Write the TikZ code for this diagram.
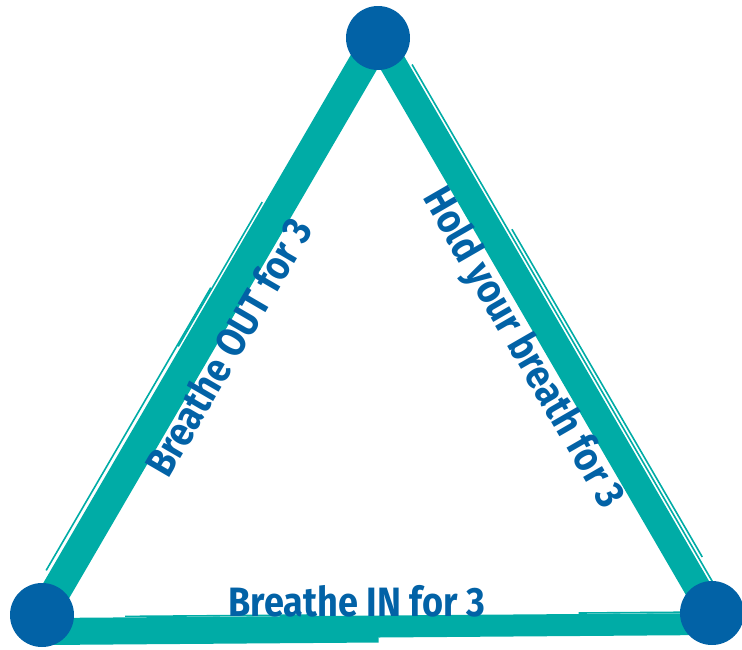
\documentclass[tikz,border=0pt]{standalone}
\usepackage{fontspec}
\newfontfamily\handfont[FakeStretch=0.88]{Fira Sans}
\usetikzlibrary{calc}
\definecolor{cTeal}{RGB}{0,172,166}
\definecolor{cBlue}{RGB}{2,98,166}
\tikzset{
  brush/.style={cTeal, line width=#1, line cap=butt},
  brush/.default=24pt,
  streak/.style={cTeal, line width=1.6pt},
  dot/.style={circle, fill=cBlue, minimum size=64pt, inner sep=0pt},
  lbl/.style={font=\handfont\bfseries\fontsize{41}{41}\selectfont, text=cBlue, inner sep=0pt}
}

\begin{document}
\begin{tikzpicture}[x=1pt, y=-1pt]
  \useasboundingbox (0,0) rectangle (742,649);
  % corners
  \coordinate (top) at (378,38);
  \coordinate (bl) at (42,615);
  \coordinate (br) at (712,613);
  \coordinate (bbl) at (45,629);
  \coordinate (bbr) at (712,624);
  % brush strokes
  \draw[brush=30pt] (bl) -- (top);
  \draw[brush=27pt] (top) -- (br);
  \draw[brush=22pt] (bbl) -- (bbr);
  \draw[brush=8pt] ($(bbl)+(0,12)$) -- ($(bbl)!0.5!(bbr)+(0,12)$);
  % loose streaks
  \draw[streak] ($(bl)!0.06!(top)+(-16,-10)$) -- ($(bl)!0.55!(top)+(-16,-10)$);
  \draw[streak] ($(bl)!0.45!(top)+(-15,-9)$) -- ($(bl)!0.70!(top)+(-15,-9)$);
  \draw[streak] ($(top)!0.06!(br)+(14,-8)$) -- ($(top)!0.96!(br)+(14,-8)$);
  \draw[streak] ($(top)!0.35!(br)+(17,-10)$) -- ($(top)!0.92!(br)+(17,-10)$);
  \draw[streak] ($(bbl)!0.12!(bbr)+(0,-12)$) -- ($(bbl)!0.40!(bbr)+(0,-12)$);
  \draw[streak] ($(bbl)!0.80!(bbr)+(0,-12)$) -- ($(bbl)!0.97!(bbr)+(0,-12)$);
  % dots
  \node[dot] (topdot) at (top) {};
  \node[dot] (bldot) at (bl) {};
  \node[dot] (brdot) at (br) {};
  % labels
  \node[lbl, rotate=59.8] (outlbl) at (228,347) {Breathe OUT for 3};
  \node[lbl, rotate=-60] (holdlbl) at (522,349) {Hold your breath for 3};
  \node[lbl] (inlbl) at (357,601) {Breathe IN for 3};
\end{tikzpicture}
\end{document}
